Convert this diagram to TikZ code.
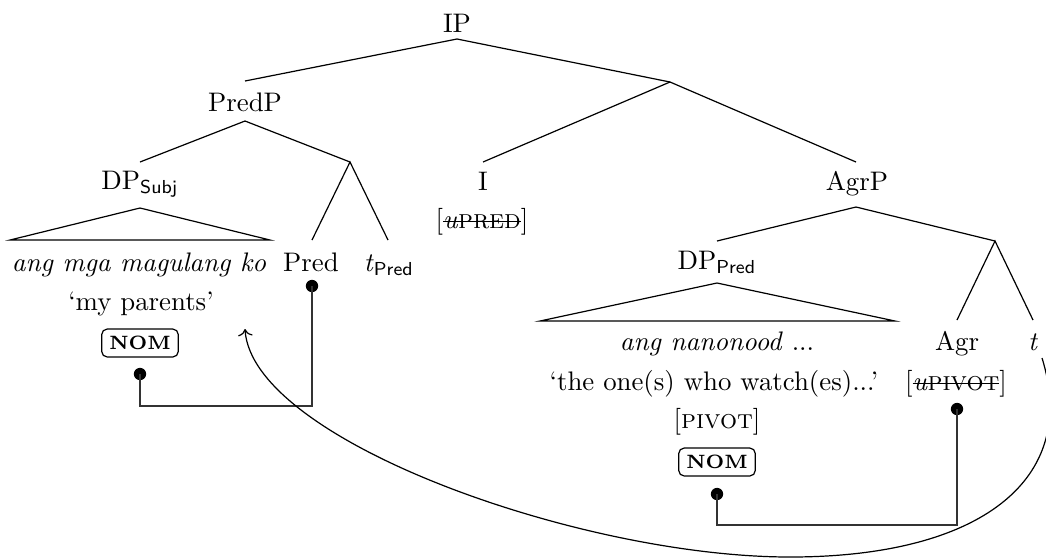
\documentclass[tikz,border=0pt]{standalone}
\usetikzlibrary{arrows.meta}
\newcommand\strk[1]{{\setbox0\hbox{#1}\rlap{\rule[0.55ex]{\wd0}{0.4pt}}\box0}}
\begin{document}
\begin{tikzpicture}[x=0.373pt,y=-0.373pt,
  lbl/.style={anchor=base, inner sep=0pt},
  br/.style={line width=0.45pt},
  conn/.style={line width=0.55pt, black!80},
  dotc/.style={circle, fill=black, inner sep=0pt, minimum size=4.6pt},
  nombox/.style={draw, rounded corners=2pt, line width=0.45pt, inner xsep=2.8pt, inner ysep=2.6pt, text height=5.2pt, text depth=0pt, font=\bfseries\fontsize{7.2}{8}\selectfont}]
\useasboundingbox (0,0) rectangle (1046,558);
% labels
\node[lbl] (IP) at (457,32) {IP};
\node[lbl] (PredP) at (245,111) {PredP};
\node[lbl] (DPs) at (140,189) {DP\textsubscript{\sffamily Subj}};
\node[lbl] (I) at (483,190) {I};
\node[lbl] (uPred) at (482,228) {[\strk{\textit{u}\textsc{pred}}]};
\node[lbl] (AgrP) at (857,190) {AgrP};
\node[lbl] (angmga) at (139,271) {\textit{ang mga magulang ko}};
\node[lbl] (Pred) at (311,271) {Pred};
\node[lbl] (tPred) at (389,271) {\textit{t}\textsubscript{\sffamily Pred}};
\node[lbl] (parents) at (141,310) {`my parents'};
\node[nombox] (nom1) at (140,343) {NOM};
\node[lbl] (DPp) at (717,269) {DP\textsubscript{\sffamily Pred}};
\node[lbl] (angnan) at (717,350) {\textit{ang nanonood} ...};
\node[lbl] (theone) at (714,390) {`the one(s) who watch(es)...'};
\node[lbl] (pivot) at (717,428) {[\textsc{pivot}]};
\node[nombox] (nom2) at (717,462) {NOM};
\node[lbl] (Agr) at (957,350) {Agr};
\node[lbl] (t) at (1033,350) {\textit{t}};
\node[lbl] (uPivot) at (956,390) {[\strk{\textit{u}\textsc{pivot}}]};
% tree coordinates
\coordinate (IPb) at (457,39);
\coordinate (PredPt) at (245,81);
\coordinate (Ibar) at (670,82);
\coordinate (PredPb) at (245,121);
\coordinate (DPst) at (140,162);
\coordinate (Predbar) at (350,162);
\coordinate (Predt) at (312,240);
\coordinate (tPredt) at (388,240);
\coordinate (DPsa) at (140,208);
\coordinate (DPsl) at (10,240);
\coordinate (DPsr) at (270,240);
\coordinate (It) at (483,162);
\coordinate (AgrPt) at (856,162);
\coordinate (AgrPb) at (856,207);
\coordinate (DPpt) at (717,241);
\coordinate (Agrbar) at (995,241);
\coordinate (DPpa) at (717,283);
\coordinate (DPpl) at (540,321);
\coordinate (DPpr) at (895,321);
\coordinate (Agrt) at (957,320);
\coordinate (tt) at (1033,320);
% tree lines
\draw[br] (PredPt) -- (IPb) -- (Ibar);
\draw[br] (DPst) -- (PredPb) -- (Predbar);
\draw[br] (Predt) -- (Predbar) -- (tPredt);
\draw[br] (DPsl) -- (DPsa) -- (DPsr) -- cycle;
\draw[br] (It) -- (Ibar) -- (AgrPt);
\draw[br] (DPpt) -- (AgrPb) -- (Agrbar);
\draw[br] (DPpl) -- (DPpa) -- (DPpr) -- cycle;
\draw[br] (Agrt) -- (Agrbar) -- (tt);
% agreement connectors
\node[dotc] (d1) at (140,374) {};
\node[dotc] (d2) at (312,286) {};
\node[dotc] (d3) at (717,494) {};
\node[dotc] (d4) at (957,409) {};
\draw[conn] (d1.center) -- ++(0,32) -| (d2.center);
\draw[conn] (d3.center) -- ++(0,31) -| (d4.center);
% movement arrow
\coordinate (tstart) at (1042,358);
\coordinate (mbot) at (790,557);
\coordinate (arrtip) at (245,329);
\draw[br,->] (tstart) .. controls (1080,480) and (980,557) .. (mbot)
  .. controls (580,557) and (252,440) .. (arrtip);
\end{tikzpicture}
\end{document}
